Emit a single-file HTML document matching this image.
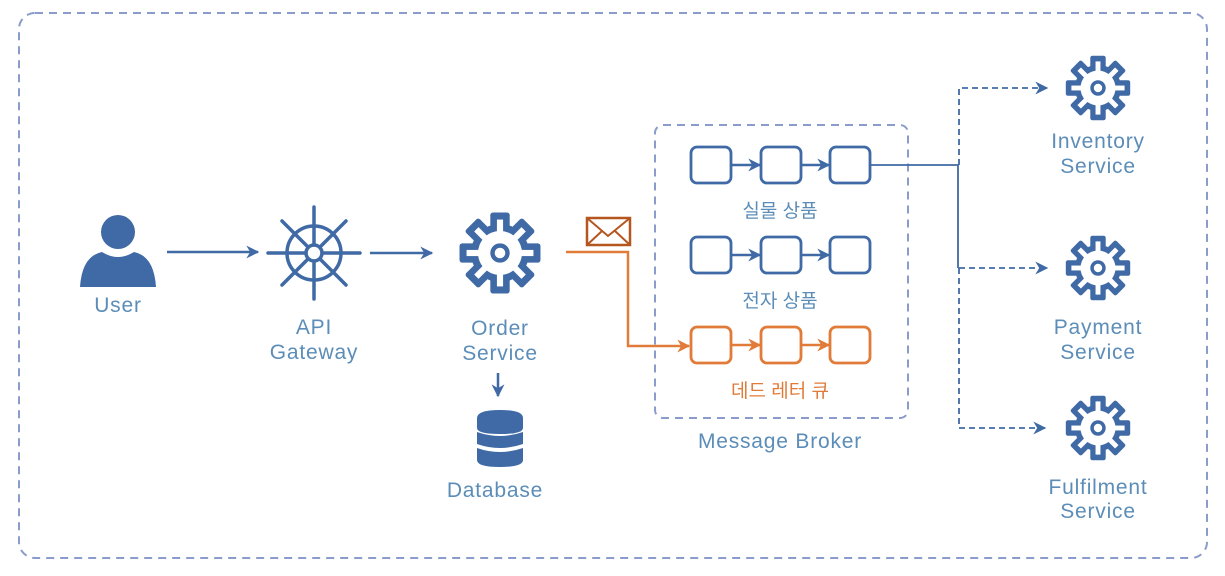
<!DOCTYPE html>
<html><head><meta charset="utf-8"><style>
html,body{margin:0;padding:0;background:#fff;}
svg{display:block;}
text{font-family:"Liberation Sans","Noto Sans CJK KR",sans-serif;font-size:21px;letter-spacing:0.8px;fill:#5b8db8;text-anchor:middle;}
text.k{font-size:19px;letter-spacing:0;}
</style></head><body>
<svg width="1225" height="576" viewBox="0 0 1225 576" xmlns="http://www.w3.org/2000/svg">
<defs>
<symbol id="gear" viewBox="-50 -50 100 100" overflow="visible">
  <g fill="#3f6aa5">
    <circle r="33"/>
    <rect x="-11" y="-46" width="22" height="20" rx="3"/>
    <rect x="-11" y="-46" width="22" height="20" rx="3" transform="rotate(45)"/>
    <rect x="-11" y="-46" width="22" height="20" rx="3" transform="rotate(90)"/>
    <rect x="-11" y="-46" width="22" height="20" rx="3" transform="rotate(135)"/>
    <rect x="-11" y="-46" width="22" height="20" rx="3" transform="rotate(180)"/>
    <rect x="-11" y="-46" width="22" height="20" rx="3" transform="rotate(225)"/>
    <rect x="-11" y="-46" width="22" height="20" rx="3" transform="rotate(270)"/>
    <rect x="-11" y="-46" width="22" height="20" rx="3" transform="rotate(315)"/>
  </g>
  <g fill="#fff">
    <circle r="25"/>
    <rect x="-3.5" y="-38" width="7" height="16"/>
    <rect x="-3.5" y="-38" width="7" height="16" transform="rotate(45)"/>
    <rect x="-3.5" y="-38" width="7" height="16" transform="rotate(90)"/>
    <rect x="-3.5" y="-38" width="7" height="16" transform="rotate(135)"/>
    <rect x="-3.5" y="-38" width="7" height="16" transform="rotate(180)"/>
    <rect x="-3.5" y="-38" width="7" height="16" transform="rotate(225)"/>
    <rect x="-3.5" y="-38" width="7" height="16" transform="rotate(270)"/>
    <rect x="-3.5" y="-38" width="7" height="16" transform="rotate(315)"/>
  </g>
  <circle r="11" fill="#3f6aa5"/>
  <circle r="6" fill="#fff"/>
</symbol>
<marker id="ab" viewBox="0 0 10 10" refX="9" refY="5" markerWidth="13" markerHeight="13" markerUnits="userSpaceOnUse" orient="auto"><path d="M0,0 L10,5 L0,10 L3,5 Z" fill="#3f6aa5"/></marker>
<marker id="ao" viewBox="0 0 10 10" refX="9" refY="5" markerWidth="13" markerHeight="13" markerUnits="userSpaceOnUse" orient="auto"><path d="M0,0 L10,5 L0,10 L3,5 Z" fill="#e07b39"/></marker>
</defs>

<rect x="19" y="13" width="1188" height="545" rx="16" fill="none" stroke="#8a9ccc" stroke-width="2" stroke-dasharray="8,6"/>

<!-- User -->
<circle cx="118" cy="232" r="17" fill="#3f6aa5"/>
<path d="M80,287 Q82,256 102,252 Q118,262 134,252 Q154,256 156,287 Z" fill="#3f6aa5"/>
<text x="118" y="312">User</text>
<line x1="167" y1="252" x2="258" y2="252" stroke="#3f6aa5" stroke-width="2.5" marker-end="url(#ab)"/>

<!-- API Gateway -->
<g stroke="#3f6aa5" stroke-width="3.5" fill="none" stroke-linecap="round">
  <circle cx="314" cy="253" r="27"/>
  <circle cx="314" cy="253" r="8"/>
  <line x1="314" y1="207" x2="314" y2="245"/><line x1="314" y1="261" x2="314" y2="299"/>
  <line x1="268" y1="253" x2="306" y2="253"/><line x1="322" y1="253" x2="360" y2="253"/>
  <line x1="282" y1="221" x2="308" y2="247"/><line x1="320" y1="259" x2="346" y2="285"/>
  <line x1="346" y1="221" x2="320" y2="247"/><line x1="308" y1="259" x2="282" y2="285"/>
</g>
<text x="314" y="334">API</text>
<text x="314" y="359">Gateway</text>
<line x1="370" y1="253" x2="432" y2="253" stroke="#3f6aa5" stroke-width="2.5" marker-end="url(#ab)"/>

<!-- Order Service -->
<use href="#gear" x="456" y="209" width="88" height="88"/>
<text x="500" y="335">Order</text>
<text x="500" y="360">Service</text>
<line x1="498" y1="373" x2="498" y2="396" stroke="#3f6aa5" stroke-width="2.5" marker-end="url(#ab)"/>

<!-- Database -->
<g fill="#3f6aa5">
  <path d="M477,418 Q477,410 500,410 Q523,410 523,418 L523,428 Q523,434 500,434 Q477,434 477,428 Z"/>
  <path d="M477,432 Q500,440 523,432 L523,444 Q500,452 477,444 Z"/>
  <path d="M477,448 Q500,456 523,448 L523,460 Q523,467 500,467 Q477,467 477,460 Z"/>
</g>
<text x="495" y="497">Database</text>

<!-- Envelope -->
<rect x="587" y="218" width="43" height="27" fill="none" stroke="#b5561e" stroke-width="2.5"/>
<path d="M587,218 L608,236 L630,218 M587,245 L602,231 M630,245 L615,231" fill="none" stroke="#b5561e" stroke-width="2"/>
<path d="M566,252 L628,252 L628,346 L689,346" fill="none" stroke="#e07b39" stroke-width="2.5" marker-end="url(#ao)"/>

<!-- Broker -->
<rect x="655" y="125" width="253" height="293" rx="8" fill="none" stroke="#8a9ccc" stroke-width="2" stroke-dasharray="8,6"/>
<text x="780" y="448">Message Broker</text>
<g fill="#fff" stroke="#3f6aa5" stroke-width="2.8">
  <rect x="691" y="147" width="40" height="36" rx="6"/><rect x="761" y="147" width="40" height="36" rx="6"/><rect x="830" y="147" width="40" height="36" rx="6"/>
  <rect x="691" y="237" width="40" height="36" rx="6"/><rect x="761" y="237" width="40" height="36" rx="6"/><rect x="830" y="237" width="40" height="36" rx="6"/>
</g>
<g stroke="#3f6aa5" stroke-width="2.5">
  <line x1="731" y1="165" x2="760" y2="165" marker-end="url(#ab)"/><line x1="801" y1="165" x2="829" y2="165" marker-end="url(#ab)"/>
  <line x1="731" y1="255" x2="760" y2="255" marker-end="url(#ab)"/><line x1="801" y1="255" x2="829" y2="255" marker-end="url(#ab)"/>
</g>
<g fill="#fff" stroke="#e07b39" stroke-width="2.8">
  <rect x="691" y="327" width="40" height="36" rx="6"/><rect x="761" y="327" width="40" height="36" rx="6"/><rect x="830" y="327" width="40" height="36" rx="6"/>
</g>
<g stroke="#e07b39" stroke-width="2.5">
  <line x1="731" y1="345" x2="760" y2="345" marker-end="url(#ao)"/><line x1="801" y1="345" x2="829" y2="345" marker-end="url(#ao)"/>
</g>
<text class="k" x="780" y="217">실물 상품</text>
<text class="k" x="780" y="307">전자 상품</text>
<text class="k" x="780" y="397" style="fill:#e07b39">데드 레터 큐</text>

<!-- Fanout -->
<path d="M870,165 L958,165 L958,268" fill="none" stroke="#3f6aa5" stroke-width="1.8"/>
<g fill="none" stroke="#3f6aa5" stroke-width="1.8" stroke-dasharray="6,4">
  <path d="M959,165 L959,88 L1047,88" marker-end="url(#ab)"/>
  <path d="M959,268 L1047,268" marker-end="url(#ab)"/>
  <path d="M959,268 L959,428 L1045,428" marker-end="url(#ab)"/>
</g>

<!-- Services -->
<use href="#gear" x="1063" y="53" width="70" height="70"/>
<use href="#gear" x="1063" y="233" width="70" height="70"/>
<use href="#gear" x="1063" y="393" width="70" height="70"/>
<text x="1098" y="148">Inventory</text>
<text x="1098" y="173">Service</text>
<text x="1098" y="334">Payment</text>
<text x="1098" y="359">Service</text>
<text x="1098" y="494">Fulfilment</text>
<text x="1098" y="518">Service</text>
</svg>
</body></html>
